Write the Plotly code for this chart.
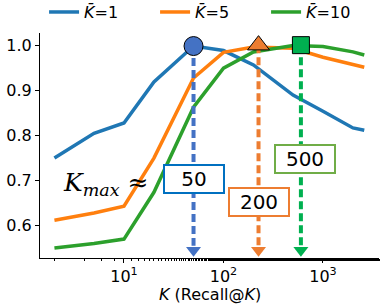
import math
import plotly.graph_objects as go

K = [2, 5, 10, 20, 50, 100, 200, 500, 1000, 2000, 2600]
recall_k1 = [0.749, 0.804, 0.827, 0.918, 0.998, 0.988, 0.956, 0.889, 0.853, 0.816, 0.811]
recall_k5 = [0.611, 0.627, 0.642, 0.749, 0.927, 0.984, 0.996, 0.993, 0.973, 0.958, 0.951]
recall_k10 = [0.549, 0.559, 0.569, 0.673, 0.862, 0.949, 0.985, 0.999, 0.997, 0.985, 0.978]
series_names = ["<i>K̄</i>=1", "<i>K̄</i>=5", "<i>K̄</i>=10"]
series_colors = ["#1f77b4", "#ff7f0e", "#2ca02c"]

kmax_x = [50, 225, 600]
kmax_y = [0.998, 1.0, 1.0]
kmax_labels = ["50", "200", "500"]
kmax_symbols = ["circle", "triangle-up", "square"]
kmax_colors = ["#4472C4", "#ED7D31", "#00B050"]
box_colors = ["#0070C0", "#ED7D31", "#70AD47"]
box_y = [0.702, 0.651, 0.747]
box_xshift = [0, 0, 4]
arrow_y = 0.544
tick_vals = [10, 100, 1000]
tick_text = ["10<sup>1</sup>", "10<sup>2</sup>", "10<sup>3</sup>"]

fig = go.Figure()
for vals, name, col in zip([recall_k1, recall_k5, recall_k10], series_names, series_colors):
    fig.add_trace(go.Scatter(x=K, y=vals, mode="lines", name=name,
                             line=dict(color=col, width=3.5)))

for x, y, sym, col in zip(kmax_x, kmax_y, kmax_symbols, kmax_colors):
    fig.add_trace(go.Scatter(x=[x, x], y=[y, arrow_y + 0.01], mode="lines",
                             line=dict(color=col, width=4, dash="8px,4px"),
                             showlegend=False, hoverinfo="skip"))
    fig.add_trace(go.Scatter(x=[x], y=[arrow_y], mode="markers",
                             marker=dict(symbol="triangle-down", size=13, color=col,
                                         line=dict(width=0)),
                             showlegend=False, hoverinfo="skip"))
for x, y, sym, col in zip(kmax_x, kmax_y, kmax_symbols, kmax_colors):
    fig.add_trace(go.Scatter(x=[x], y=[y], mode="markers",
                             marker=dict(symbol=sym, size=19 if sym != "square" else 17,
                                         color=col, line=dict(color="black", width=1)),
                             showlegend=False, hoverinfo="skip"))

for x, y, lab, bc, xs in zip(kmax_x, box_y, kmax_labels, box_colors, box_xshift):
    fig.add_annotation(x=math.log10(x), y=y, xref="x", yref="y", text=lab, showarrow=False,
                       xshift=xs,
                       font=dict(family="DejaVu Sans", size=20, color="black"),
                       bgcolor="white", bordercolor=bc, borderwidth=2,
                       width=56, height=24, borderpad=1)

fig.add_annotation(x=0.062, y=0.33, xref="paper", yref="paper", xanchor="left",
                   yanchor="middle", showarrow=False,
                   text="<i>K</i><sub><i>max</i></sub> ≈",
                   font=dict(family="DejaVu Serif", size=25, color="black"))

fig.add_annotation(x=0.5, y=-0.16, xref="paper", yref="paper", xanchor="center",
                   yanchor="middle", showarrow=False,
                   text="<i>K</i> (Recall@<i>K</i>)",
                   font=dict(family="DejaVu Sans", size=16, color="black"))

fig.update_xaxes(type="log", range=[0.156, 3.563], showline=True, linecolor="black",
                 linewidth=1, ticks="outside", ticklen=4, tickcolor="black",
                 tickvals=tick_vals, ticktext=tick_text, showgrid=False, zeroline=False,
                 mirror=False,
                 minor=dict(ticks="outside", ticklen=2, tickcolor="black", showgrid=False),
                 tickfont=dict(family="DejaVu Sans", size=16, color="black"))
fig.update_yaxes(range=[0.527, 1.027], showline=True, linecolor="black", linewidth=1,
                 ticks="outside", ticklen=4, tickcolor="black",
                 tickvals=[0.6, 0.7, 0.8, 0.9, 1.0], ticktext=["0.6", "0.7", "0.8", "0.9", "1.0"],
                 showgrid=False, zeroline=False,
                 tickfont=dict(family="DejaVu Sans", size=16, color="black"))

fig.update_layout(width=382, height=306,
                  margin=dict(l=40, r=3, t=33, b=48, autoexpand=False),
                  plot_bgcolor="white", paper_bgcolor="white",
                  showlegend=True,
                  legend=dict(orientation="h", x=0.012, y=1.093, xanchor="left", yanchor="middle",
                              font=dict(family="DejaVu Sans", size=16, color="black"),
                              entrywidth=66, entrywidthmode="pixels",
                              bgcolor="rgba(0,0,0,0)"))

fig.write_html("out.html", config={"displayModeBar": False},
               post_script="document.body.style.margin='0px';")
